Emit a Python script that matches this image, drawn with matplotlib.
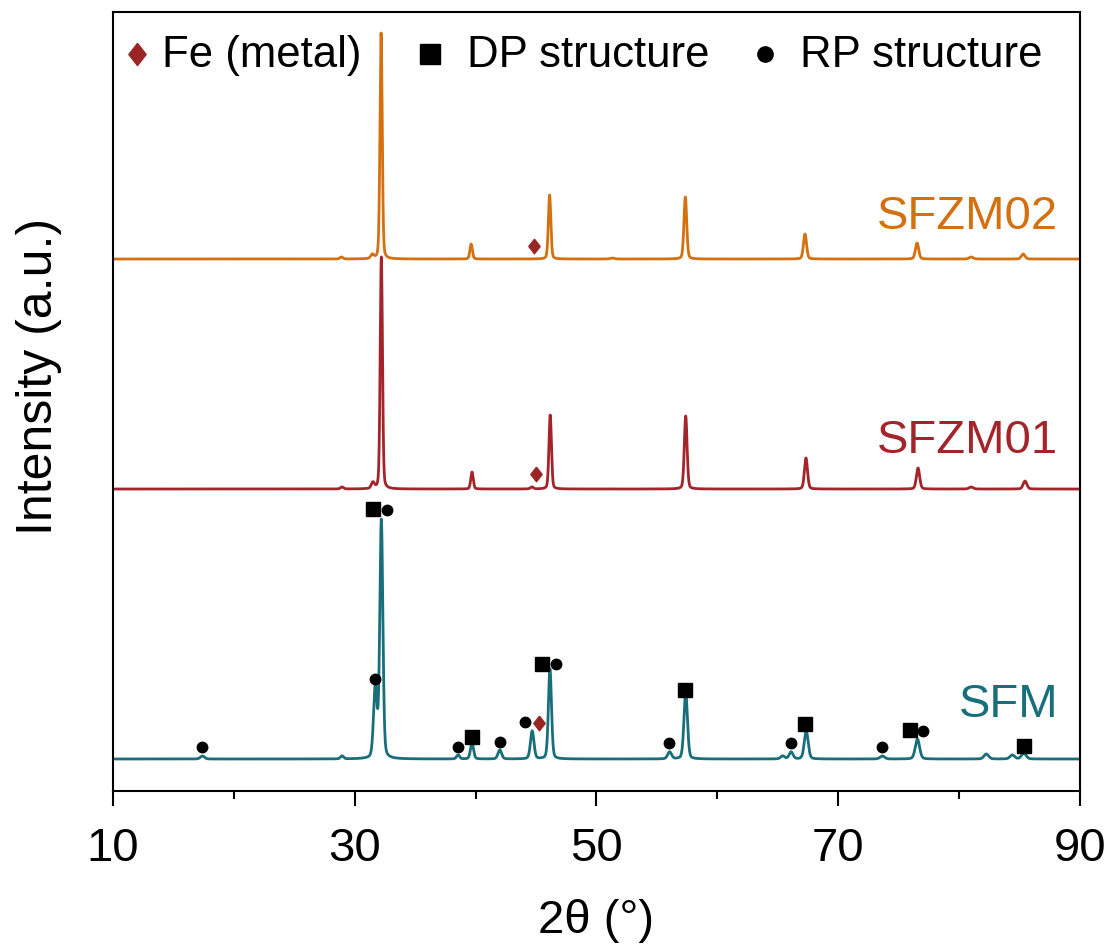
import numpy as np
import matplotlib
matplotlib.use("Agg")
import matplotlib.pyplot as plt
from matplotlib.ticker import FixedLocator

plt.rcParams['font.family'] = ['Liberation Sans', 'DejaVu Sans']

# peak tables: 2theta (deg), height (a.u.), fwhm (deg)
sfm_pos = [17.4, 28.95, 31.7, 32.2, 38.55, 39.7, 42.0, 44.68, 46.15, 56.05, 57.38,
           65.4, 66.1, 67.35, 73.65, 76.55, 82.25, 84.4, 85.35]
sfm_h = [3, 3, 70, 238, 4, 16, 9, 28, 90, 7, 67, 3, 7, 28, 3, 20, 5, 4, 6]
sfm_w = [0.4, 0.3, 0.34, 0.3, 0.3, 0.3, 0.35, 0.34, 0.3, 0.38, 0.34,
         0.4, 0.38, 0.38, 0.45, 0.42, 0.45, 0.45, 0.45]

sfzm01_pos = [28.95, 31.5, 32.2, 39.7, 44.65, 46.17, 57.38, 67.33, 76.6, 81.0, 85.45]
sfzm01_h = [2, 6, 232, 17, 2, 74, 73, 31, 21, 2, 8]
sfzm01_w = [0.3, 0.3, 0.22, 0.24, 0.3, 0.24, 0.27, 0.3, 0.32, 0.4, 0.36]

sfzm02_pos = [28.9, 31.45, 32.18, 39.63, 46.12, 51.3, 57.35, 67.25, 76.52, 81.0, 85.3]
sfzm02_h = [2, 4, 226, 15, 64, 1, 62, 25, 16, 2, 5]
sfzm02_w = [0.3, 0.3, 0.22, 0.24, 0.24, 0.4, 0.27, 0.3, 0.32, 0.4, 0.36]

offsets = {"SFM": 32, "SFZM01": 302, "SFZM02": 532}
colors = {"SFM": "#186E7B", "SFZM01": "#A3242A", "SFZM02": "#D4700F"}

# phase markers on the SFM pattern (2theta, y in a.u.)
dp_x = [31.48, 39.67, 45.51, 57.33, 67.26, 75.92, 85.38]
dp_y = [282, 54, 127, 101, 67, 61, 45]
rp_x = [32.64, 31.67, 17.39, 38.51, 42.01, 44.08, 46.64, 55.99, 66.05, 73.63, 77.02]
rp_y = [281, 112, 44, 44, 49, 69, 127, 48, 48, 44, 60]
fe_x = [45.24, 44.99, 44.82]
fe_y = [68, 317, 545]

diamond = [(0, 1), (0.78, 0), (0, -1), (-0.78, 0), (0, 1)]


def pattern(pos, h, w, base):
    tt = np.arange(10, 90.001, 0.01)
    y = np.full_like(tt, float(base))
    for p, a, f in zip(pos, h, w):
        d = (tt - p) / f
        g = np.exp(-4 * np.log(2) * d ** 2)
        lo = 1 / (1 + 4 * d ** 2)
        y += a * (0.75 * g + 0.25 * lo)
    return tt, y


fig = plt.figure(figsize=(11.11, 9.45), dpi=100)
ax = fig.add_axes([0.1017, 0.1619, 0.8704, 0.8243])

for name, (pos, h, w) in [("SFM", (sfm_pos, sfm_h, sfm_w)),
                          ("SFZM01", (sfzm01_pos, sfzm01_h, sfzm01_w)),
                          ("SFZM02", (sfzm02_pos, sfzm02_h, sfzm02_w))]:
    tt, y = pattern(pos, h, w, offsets[name])
    ax.plot(tt, y, color=colors[name], lw=2.0)

ax.plot(dp_x, dp_y, ls="none", marker="s", ms=9.5, color="black")
ax.plot(rp_x, rp_y, ls="none", marker="o", ms=7.5, color="black")
ax.plot(fe_x, fe_y, ls="none", marker=diamond, ms=10.5, color="#9B2525")

ax.text(88.2, 575, "SFZM02", color=colors["SFZM02"], fontsize=34, ha="right", va="center")
ax.text(88.2, 351, "SFZM01", color=colors["SFZM01"], fontsize=34, ha="right", va="center")
ax.text(88.2, 87, "SFM", color=colors["SFM"], fontsize=34, ha="right", va="center")

# legend row along the top
ly = 0.946
ax.plot([0.0248], [ly], transform=ax.transAxes, marker=diamond, ms=16, color="#9B2525")
ax.text(0.0507, ly, "Fe (metal)", transform=ax.transAxes, fontsize=31.5, va="center")
ax.plot([0.328], [ly], transform=ax.transAxes, marker="s", ms=14, color="black")
ax.text(0.366, ly, "DP structure", transform=ax.transAxes, fontsize=31.5, va="center")
ax.plot([0.674], [ly], transform=ax.transAxes, marker="o", ms=11, color="black")
ax.text(0.710, ly, "RP structure", transform=ax.transAxes, fontsize=31.5, va="center")

ax.set_xlim(10, 90)
ax.set_ylim(0, 779)
ax.xaxis.set_major_locator(FixedLocator([10, 30, 50, 70, 90]))
ax.xaxis.set_minor_locator(FixedLocator([20, 40, 60, 80]))
ax.set_yticks([])
ax.tick_params(axis="x", which="major", direction="out", length=11, width=1.5,
               labelsize=34, pad=14)
ax.tick_params(axis="x", which="minor", direction="out", length=6, width=1.5)
for s in ax.spines.values():
    s.set_linewidth(1.5)

ax.set_xlabel("2θ (°)", fontsize=34, labelpad=20)
ax.set_ylabel("Intensity (a.u.)", fontsize=36)
ax.yaxis.set_label_coords(-0.053, 0.534)

fig.savefig("out.png", dpi=100)
